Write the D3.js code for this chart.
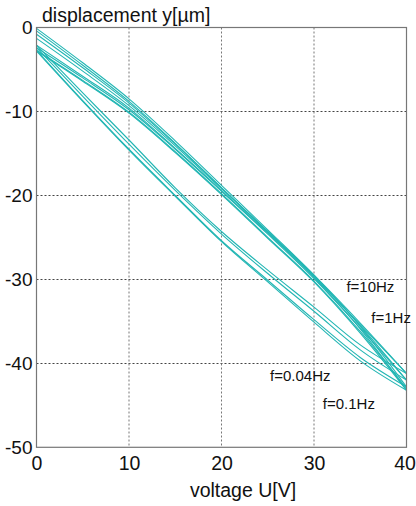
<!DOCTYPE html>
<meta charset="utf-8">
<style>
    body { margin: 0; background: #fff; }
    text { font-family: "Liberation Sans", Arial, sans-serif; fill: #111; }
    .grid line { stroke: #444; stroke-dasharray: 2,2; stroke-width: 1; }
    .frame { fill: none; stroke: #777; stroke-width: 1.2; }
    .loop { fill: none; stroke: #22b6b4; stroke-width: 1.1; }
</style>
<body>
<script src="https://cdnjs.cloudflare.com/ajax/libs/d3/7.8.5/d3.min.js"></script>
<script>
    // voltage sample points [V]
    var voltage = [0, 5, 10, 15, 20, 25, 30, 35, 40];

    // displacement [um], per frequency: rising, falling, second rising
    var up_f004   = [-0.1, -4.2, -8.5, -13.5, -18.8, -24.1, -29.5, -35.6, -42.8];
    var down_f004 = [-2.7, -8.7, -14.5, -20.0, -25.4, -30.1, -34.8, -39.3, -42.8];
    var up2_f004  = [-2.7, -6.3, -10.1, -14.8, -19.8, -25.0, -30.2, -36.2, -43.0];

    var up_f01    = [-0.4, -4.5, -8.8, -13.8, -19.1, -24.4, -29.8, -35.9, -43.2];
    var down_f01  = [-2.8, -8.8, -14.6, -20.1, -25.5, -30.3, -35.1, -39.7, -43.2];
    var up2_f01   = [-2.8, -6.4, -10.2, -14.9, -19.9, -25.1, -30.3, -36.4, -43.2];

    var up_f1     = [-0.8, -4.8, -9.0, -13.9, -19.1, -24.3, -29.6, -35.5, -42.0];
    var down_f1   = [-2.4, -8.2, -13.9, -19.4, -24.6, -29.3, -33.8, -38.4, -42.0];
    var up2_f1    = [-2.4, -6.0, -9.8, -14.5, -19.5, -24.6, -29.9, -35.8, -42.0];

    var up_f10    = [-1.3, -5.2, -9.3, -14.1, -19.2, -24.3, -29.5, -35.2, -41.2];
    var down_f10  = [-2.1, -7.8, -13.4, -19.1, -24.3, -28.9, -33.3, -37.8, -41.2];
    var up2_f10   = [-2.1, -5.8, -9.6, -14.4, -19.4, -24.5, -29.7, -35.4, -41.2];

    // frequency annotations: text, voltage, displacement (baseline)
    var labelText = ["f=10Hz", "f=1Hz", "f=0.04Hz", "f=0.1Hz"];
    var labelU    = [33.5, 36.2, 25.25, 30.95];
    var labelY    = [-31.5, -35.25, -42.1, -45.4];

    var xTicks = [0, 10, 20, 30, 40];
    var yTicks = [0, -10, -20, -30, -40, -50];

    var width = 416, height = 506;

    var svg = d3.select("body").append("svg")
        .attr("width", width)
        .attr("height", height);

    var x = d3.scaleLinear().domain([0, 40]).range([36.5, 406.5]);
    var y = d3.scaleLinear().domain([-50, 0]).range([447.3, 27.5]);

    // grid
    var grid = svg.append("g").attr("class", "grid");
    grid.selectAll(".gy")
        .data(yTicks.slice(1, 5))
        .enter().append("line")
        .attr("x1", x(0)).attr("x2", x(40))
        .attr("y1", function(d) { return Math.round(y(d)) + 0.5; })
        .attr("y2", function(d) { return Math.round(y(d)) + 0.5; });
    grid.selectAll(".gx")
        .data(xTicks.slice(1, 4))
        .enter().append("line")
        .attr("y1", y(0)).attr("y2", y(-50))
        .attr("x1", function(d) { return x(d); })
        .attr("x2", function(d) { return x(d); })
        .style("stroke", "#777");

    // hysteresis loops
    var branches = [up_f004, down_f004, up2_f004, up_f01, down_f01, up2_f01,
                    up_f1, down_f1, up2_f1, up_f10, down_f10, up2_f10];

    var line = d3.line()
        .x(function(d, i) { return x(voltage[i]); })
        .y(function(d) { return y(d); })
        .curve(d3.curveMonotoneX);

    svg.append("g")
        .selectAll("path")
        .data(branches)
        .enter().append("path")
        .attr("class", "loop")
        .attr("d", line);

    // frame
    svg.append("rect")
        .attr("class", "frame")
        .attr("x", x(0)).attr("y", y(0))
        .attr("width", x(40) - x(0))
        .attr("height", y(-50) - y(0));

    // axes (plain hyphen for the minus sign, like the original)
    var yAxis = svg.append("g")
        .attr("transform", "translate(" + x(0) + ",0)")
        .call(d3.axisLeft(y).tickValues(yTicks).tickSize(0).tickPadding(4)
            .tickFormat(function(d) { return String(d); }));
    yAxis.select(".domain").remove();
    yAxis.selectAll("text")
        .style("font-size", "19px")
        .style("font-family", "'Liberation Sans', Arial, sans-serif")
        .attr("fill", "#111");

    var xAxis = svg.append("g")
        .attr("transform", "translate(0," + y(-50) + ")")
        .call(d3.axisBottom(x).tickValues(xTicks).tickSize(0).tickPadding(9));
    xAxis.select(".domain").remove();
    xAxis.selectAll("text")
        .style("font-size", "19.5px")
        .style("font-family", "'Liberation Sans', Arial, sans-serif")
        .attr("fill", "#111")
        .attr("dx", function(d) { return d === 40 ? -2 : 0; });

    // axis titles
    svg.append("text")
        .attr("x", 42)
        .attr("y", 22)
        .style("font-size", "19.5px")
        .text("displacement y[\u00b5m]");

    svg.append("text")
        .attr("x", 243)
        .attr("y", 496.5)
        .attr("text-anchor", "middle")
        .style("font-size", "19.5px")
        .text("voltage U[V]");

    // frequency labels
    svg.append("g")
        .selectAll("text")
        .data(labelText)
        .enter().append("text")
        .attr("x", function(d, i) { return x(labelU[i]); })
        .attr("y", function(d, i) { return y(labelY[i]); })
        .style("font-size", "15px")
        .text(function(d) { return d; });
</script>
</body>
